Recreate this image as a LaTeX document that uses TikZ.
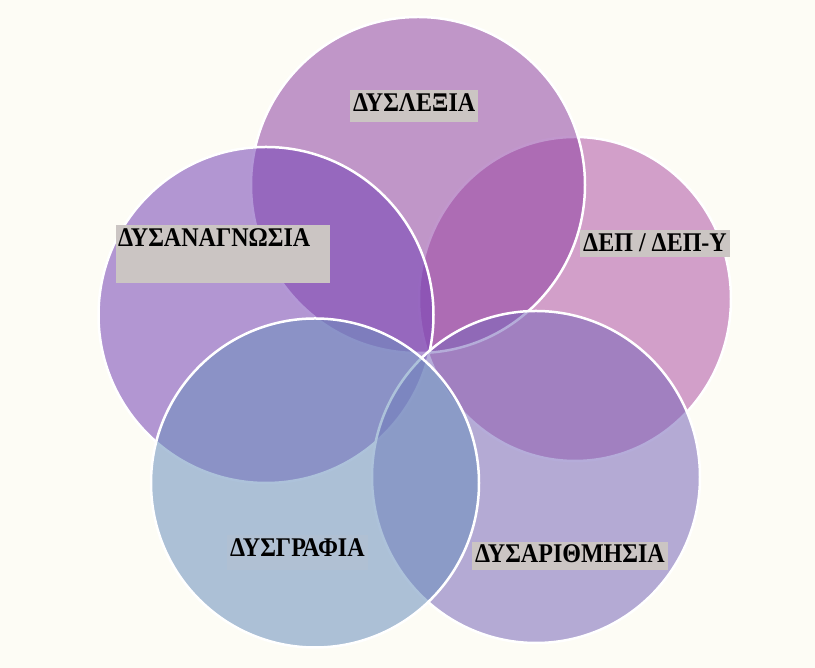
\documentclass[tikz,border=0pt]{standalone}
\usepackage{fontspec}
\setmainfont{Liberation Serif}
\newfontfamily\tagfont[FakeStretch=0.89]{Liberation Serif}
\usetikzlibrary{shapes.geometric}
\definecolor{paper}{RGB}{253,252,245}
\definecolor{lexc}{RGB}{143,67,164}
\definecolor{depc}{RGB}{176,84,166}
\definecolor{anagc}{RGB}{117,67,182}
\definecolor{arithc}{RGB}{121,104,186}
\definecolor{grafc}{RGB}{107,144,189}
\definecolor{boxc}{RGB}{203,197,195}
\tikzset{
	petal/.style={ellipse, draw=white, line width=2.5pt, fill opacity=0.55, inner sep=0pt, outer sep=0pt},
	labelbox/.style={fill=boxc, text=black, font=\tagfont\fontsize{27}{30}\selectfont\bfseries, anchor=base west, inner xsep=3pt, inner ysep=4pt}
}

\begin{document}
\begin{tikzpicture}[x=1pt, y=1pt]
			%%%%% START %%%%%
			
			\fill[paper] (0, 0) rectangle (815, 668);
			
			% five petals, lowest first
			\node[petal, fill=depc, minimum width=312pt, minimum height=324pt] (dep) at (575, 369) {};
			\node[petal, fill=lexc, minimum width=334pt, minimum height=336pt] (lexia) at (418, 483) {};
			\node[petal, fill=anagc, minimum width=335pt, minimum height=336pt] (anag) at (266, 353) {};
			\node[petal, fill=arithc, minimum width=328pt, minimum height=332pt] (arith) at (536, 191) {};
			\node[petal, fill=grafc, minimum width=328pt, minimum height=329pt] (graf) at (315, 185) {};
			
			% labels
			\node[labelbox, text depth=6pt] (lexiatag) at (350, 556) {ΔΥΣΛΕΞΙΑ};
			\node[labelbox, inner xsep=2pt, text depth=32pt, text width=210pt, align=left] (anagtag) at (116, 421) {ΔΥΣΑΝΑΓΝΩΣΙΑ};
			\node[labelbox, text depth=1pt] (deptag) at (580, 416) {ΔΕΠ / ΔΕΠ-Υ};
			\node[labelbox, fill opacity=0.15, text opacity=1, text depth=9pt] (graftag) at (227, 111) {ΔΥΣΓΡΑΦΙΑ};
			\node[labelbox, inner ysep=3pt, text depth=4pt] (arithtag) at (472, 105) {ΔΥΣΑΡΙΘΜΗΣΙΑ};
			
			%%%%% END %%%%%
\end{tikzpicture}
\end{document}
